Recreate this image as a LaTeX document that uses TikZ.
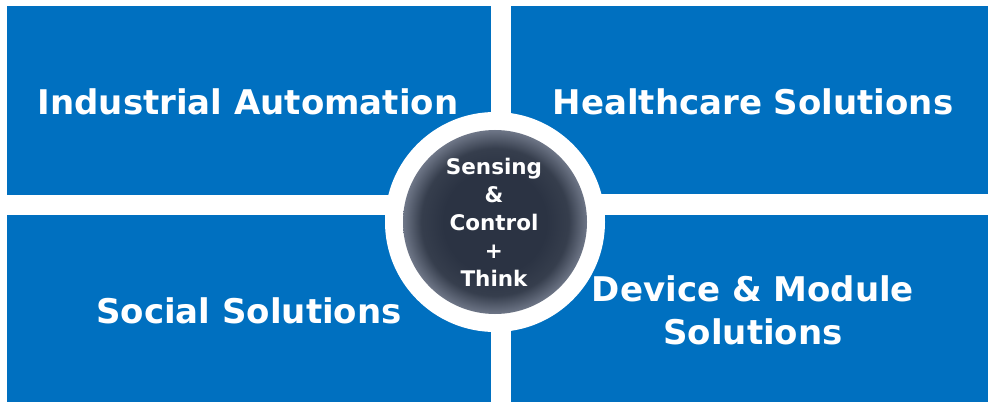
\documentclass[tikz,border=0pt]{standalone}
\usepackage{fontspec}
\setmainfont{DejaVu Sans}
\definecolor{panelblue}{HTML}{0070C0}
\definecolor{coredark}{HTML}{2B3343}
\definecolor{coremid}{HTML}{363E4D}
\definecolor{coreedge}{HTML}{6E7687}
\pgfdeclareradialshading{coreshade}{\pgfpoint{0bp}{0bp}}{color(0bp)=(coredark); color(14bp)=(coredark); color(20bp)=(coremid); color(25bp)=(coreedge); color(50bp)=(coreedge)}
\begin{document}
\begin{tikzpicture}[x=1pt,y=1pt,
  panel/.style={fill=panelblue,draw=none},
  paneltext/.style={text=white,font=\bfseries\fontsize{34}{43}\selectfont,align=center},
  coretext/.style={text=white,font=\bfseries\fontsize{21.5}{28}\selectfont,align=center}]
\useasboundingbox (0,0) rectangle (988,402);
\fill[white] (0,0) rectangle (988,402);
\path[panel] (7,396) rectangle (491,207);
\path[panel] (511,396) rectangle (988,208);
\path[panel] (7,187) rectangle (491,0);
\path[panel] (511,187) rectangle (988,0);
\node[paneltext] (ia) at (248,300) {Industrial Automation};
\node[paneltext] (hc) at (753,300) {Healthcare Solutions};
\node[paneltext] (ss) at (249,91) {Social Solutions};
\node[paneltext] (dm) at (753,92) {Device \& Module\\Solutions};
\fill[white] (495,180) circle (110);
\path[shading=coreshade] (495,180) circle (92);
\node[coretext] (core) at (494,180) {Sensing\\\&\\Control\\+\\Think};
\end{tikzpicture}
\end{document}
